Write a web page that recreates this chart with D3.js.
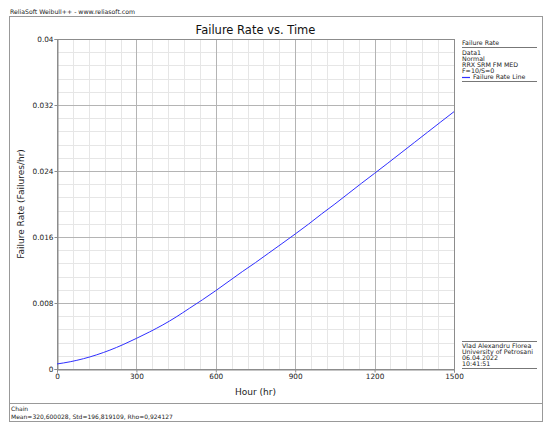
<!DOCTYPE html>
<html>
<head>
<meta charset="utf-8">
<script src="https://cdn.jsdelivr.net/npm/d3@7"></script>
<style>
  body { margin: 0; background: #fff; }
</style>
</head>
<body>
<svg></svg>
<script>
// failure rate vs time
const hours = [0, 50, 100, 150, 200, 250, 300, 350, 400, 450, 500, 550, 600, 650, 700, 750,
  800, 850, 900, 950, 1000, 1050, 1100, 1150, 1200, 1250, 1300, 1350, 1400, 1450, 1500];
const failureRate = [0.00061, 0.00088, 0.00125, 0.00172, 0.00229, 0.00296, 0.00371, 0.00450,
  0.00535, 0.00630, 0.00735, 0.00840, 0.00950, 0.01065, 0.01180, 0.01290, 0.01405, 0.01520,
  0.01636, 0.01755, 0.01880, 0.02000, 0.02125, 0.02250, 0.02372, 0.02495, 0.02620, 0.02745,
  0.02870, 0.02995, 0.03119];

const xTicks = [0, 300, 600, 900, 1200, 1500];
const yTicks = [0, 0.008, 0.016, 0.024, 0.032, 0.04];
const yTickLabels = ['0', '0.008', '0.016', '0.024', '0.032', '0.04'];

const legendLines = ['Data1', 'Normal', 'RRX SRM FM MED', 'F=10/S=0'];
const stampLines = ['Vlad Alexandru Florea', 'University of Petrosani', '06.04.2022', '10:41:51'];
const footerLines = ['Chain', 'Mean=320,600028, Std=196,819109, Rho=0,924127'];

const WIDTH = 550;
const HEIGHT = 425;
const PLOT_LEFT = 57;
const PLOT_RIGHT = 454;
const PLOT_TOP = 39;
const PLOT_BOTTOM = 369;
const FONT = '"DejaVu Sans", Verdana, sans-serif';
const TEXT_COLOR = '#222';
const FRAME_COLOR = '#999';

const svg = d3.select('svg').
attr('width', WIDTH).
attr('height', HEIGHT).
attr('font-family', FONT);

const x = d3.scaleLinear().domain([0, 1500]).range([PLOT_LEFT, PLOT_RIGHT]);
const y = d3.scaleLinear().domain([0, 0.04]).range([PLOT_BOTTOM, PLOT_TOP]);

// outer frame + header
svg.append('rect').
attr('x', 9.5).attr('y', 16.5).
attr('width', 533).attr('height', 405).
attr('fill', 'none').attr('stroke', FRAME_COLOR);

svg.append('line').
attr('x1', 9).attr('x2', 543).
attr('y1', 403.5).attr('y2', 403.5).
attr('stroke', FRAME_COLOR);

svg.append('text').
attr('x', 10).attr('y', 13.5).
attr('font-size', '6.2px').attr('fill', TEXT_COLOR).
text('ReliaSoft Weibull++ - www.reliasoft.com');

svg.append('text').
attr('x', (PLOT_LEFT + PLOT_RIGHT) / 2).attr('y', 34).
attr('text-anchor', 'middle').
attr('font-size', '11.5px').attr('fill', '#111').
text('Failure Rate vs. Time');

// grid
const minorX = d3.range(0, 1501, 60).filter(d => d % 300 !== 0);
const minorY = d3.range(0, 25).map(i => i * 0.0016).filter((d, i) => i % 5 !== 0);

const gridG = svg.append('g').attr('shape-rendering', 'crispEdges');

gridG.selectAll('.minor-x').
data(minorX).
enter().
append('line').
attr('x1', d => Math.round(x(d)) + 0.5).attr('x2', d => Math.round(x(d)) + 0.5).
attr('y1', PLOT_TOP).attr('y2', PLOT_BOTTOM).
attr('stroke', '#e6e6e6');

gridG.selectAll('.minor-y').
data(minorY).
enter().
append('line').
attr('x1', PLOT_LEFT).attr('x2', PLOT_RIGHT).
attr('y1', d => Math.round(y(d)) + 0.5).attr('y2', d => Math.round(y(d)) + 0.5).
attr('stroke', '#e6e6e6');

gridG.selectAll('.major-x').
data(xTicks).
enter().
append('line').
attr('x1', d => Math.round(x(d)) + 0.5).attr('x2', d => Math.round(x(d)) + 0.5).
attr('y1', PLOT_TOP).attr('y2', PLOT_BOTTOM).
attr('stroke', '#b4b4b4');

gridG.selectAll('.major-y').
data(yTicks).
enter().
append('line').
attr('x1', PLOT_LEFT).attr('x2', PLOT_RIGHT).
attr('y1', d => Math.round(y(d)) + 0.5).attr('y2', d => Math.round(y(d)) + 0.5).
attr('stroke', '#b4b4b4');

gridG.append('rect').
attr('x', PLOT_LEFT + 0.5).attr('y', PLOT_TOP + 0.5).
attr('width', PLOT_RIGHT - PLOT_LEFT).attr('height', PLOT_BOTTOM - PLOT_TOP).
attr('fill', 'none').attr('stroke', '#8c8c8c');

// axes
const xAxis = d3.axisBottom(x).tickValues(xTicks).tickSize(3).tickPadding(1).tickFormat(d3.format('d'));
const yAxis = d3.axisLeft(y).tickValues(yTicks).tickSize(3).tickPadding(1).
tickFormat((d, i) => yTickLabels[i]);

const xAxisG = svg.append('g').
attr('transform', `translate(0, ${PLOT_BOTTOM + 0.5})`).
call(xAxis);

const yAxisG = svg.append('g').
attr('transform', `translate(${PLOT_LEFT + 0.5}, 0)`).
call(yAxis);

[xAxisG, yAxisG].forEach(g => {
  g.select('.domain').attr('stroke', '#8c8c8c');
  g.selectAll('.tick line').attr('stroke', '#8c8c8c');
  g.selectAll('.tick text').
  attr('font-family', FONT).
  attr('font-size', '7.3px').
  attr('fill', TEXT_COLOR);
});

svg.append('text').
attr('x', (PLOT_LEFT + PLOT_RIGHT) / 2).attr('y', 395).
attr('text-anchor', 'middle').
attr('font-size', '9px').attr('fill', TEXT_COLOR).
text('Hour (hr)');

svg.append('text').
attr('transform', `translate(24, ${(PLOT_TOP + PLOT_BOTTOM) / 2}) rotate(-90)`).
attr('text-anchor', 'middle').
attr('font-size', '9px').attr('fill', TEXT_COLOR).
text('Failure Rate (Failures/hr)');

// curve
const line = d3.line().
x((d, i) => x(hours[i])).
y(d => y(d)).
curve(d3.curveMonotoneX);

svg.append('path').
datum(failureRate).
attr('d', line).
attr('fill', 'none').
attr('stroke', '#2f2fff').
attr('stroke-width', 1);

// legend
const legendG = svg.append('g').
attr('font-size', '6.3px').
attr('fill', TEXT_COLOR);

legendG.append('text').attr('x', 462).attr('y', 45).text('Failure Rate');
legendG.append('line').
attr('x1', 462).attr('x2', 537).attr('y1', 47.5).attr('y2', 47.5).
attr('stroke', '#777');

legendG.selectAll('.legend-line').
data(legendLines).
enter().
append('text').
attr('x', 462).
attr('y', (d, i) => 55 + i * 6).
text(d => d);

legendG.append('line').
attr('x1', 462).attr('x2', 470).
attr('y1', 77.5).attr('y2', 77.5).
attr('stroke', '#2f2fff').attr('stroke-width', 1.2);
legendG.append('text').attr('x', 473).attr('y', 79).text('Failure Rate Line');
legendG.append('line').
attr('x1', 462).attr('x2', 537).attr('y1', 81.5).attr('y2', 81.5).
attr('stroke', '#777');

// author stamp
const stampG = svg.append('g').
attr('font-size', '6.3px').
attr('fill', TEXT_COLOR);

stampG.append('line').
attr('x1', 462).attr('x2', 537).attr('y1', 341.5).attr('y2', 341.5).
attr('stroke', '#777');

stampG.selectAll('text').
data(stampLines).
enter().
append('text').
attr('x', 462).
attr('y', (d, i) => 347.5 + i * 6).
text(d => d);

stampG.append('line').
attr('x1', 462).attr('x2', 537).attr('y1', 368.5).attr('y2', 368.5).
attr('stroke', '#777');

// footer
svg.append('g').
attr('font-size', '6px').
attr('fill', TEXT_COLOR).
selectAll('text').
data(footerLines).
enter().
append('text').
attr('x', 11).
attr('y', (d, i) => 410.5 + i * 8).
text(d => d);
</script>
</body>
</html>
